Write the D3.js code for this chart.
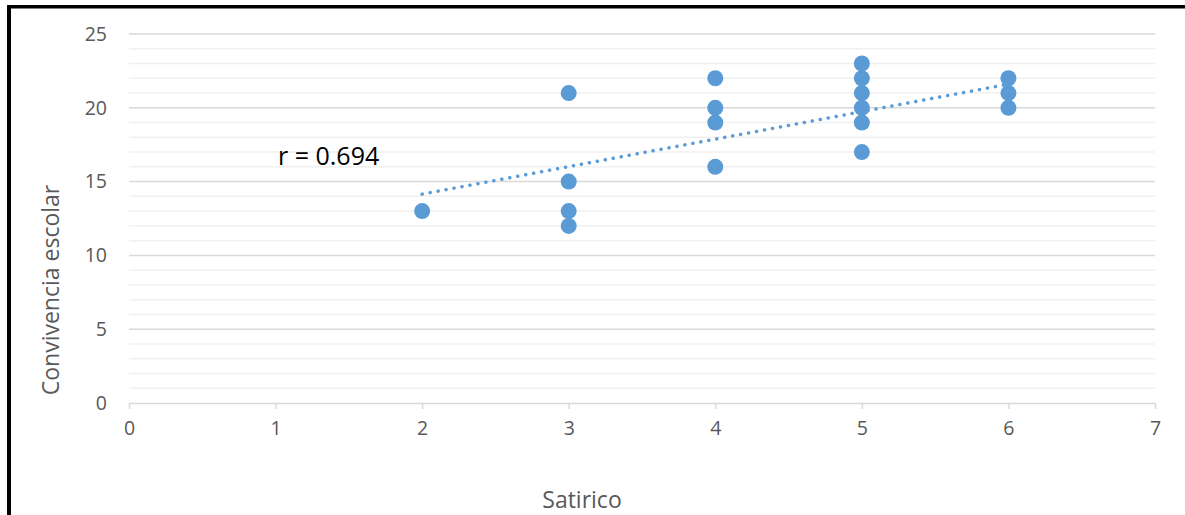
<!DOCTYPE html>
<html><head><meta charset="utf-8">
<script src="https://cdn.jsdelivr.net/npm/d3@7"></script>
<style>body{margin:0;background:#fff}svg{display:block}text{font-family:"Open Sans","Noto Sans",sans-serif}</style>
</head><body>
<svg id="c" width="1185" height="515"></svg>
<script>
const satirico = [2,3,3,3,3,4,4,4,4,5,5,5,5,5,5,6,6,6];
const convivencia = [13,21,15,13,12,22,20,19,16,23,22,21,20,19,17,22,21,20];
const trendX = [2,6];
const trendY = [14.15,21.6];
const xTicks = [0,1,2,3,4,5,6,7];
const yTicks = [0,5,10,15,20,25];
const yMinor = d3.range(0,26,1);
const rLabel = "r = 0.694";
const xTitle = "Satirico";
const yTitle = "Convivencia escolar";

const svg = d3.select("#c");
const x = d3.scaleLinear().domain([0,7]).range([129,1155]);
const y = d3.scaleLinear().domain([0,25]).range([403,34]);

// border
svg.append("rect").attr("x",7).attr("y",5).attr("width",4).attr("height",510).attr("fill","#000");
svg.append("rect").attr("x",7).attr("y",5).attr("width",1178).attr("height",3.5).attr("fill","#000");

// minor gridlines
svg.append("g").selectAll("line").data(yMinor.filter(d=>d%5!==0)).join("line")
  .attr("x1",x(0)).attr("x2",x(7)).attr("y1",d=>y(d)).attr("y2",d=>y(d))
  .attr("stroke","#f0f0f0").attr("stroke-width",1.5);
// major gridlines
svg.append("g").selectAll("line").data(yTicks.filter(d=>d>0)).join("line")
  .attr("x1",x(0)).attr("x2",x(7)).attr("y1",d=>y(d)).attr("y2",d=>y(d))
  .attr("stroke","#d9d9d9").attr("stroke-width",1.5);

// x axis
const xa = svg.append("g").attr("transform",`translate(0,${y(0)})`)
  .call(d3.axisBottom(x).tickValues(xTicks).tickFormat(d3.format("d")).tickSize(6).tickPadding(12).tickSizeOuter(0));
xa.select(".domain").attr("stroke","#d9d9d9").attr("stroke-width",1.5);
xa.selectAll(".tick line").attr("stroke","#d9d9d9").attr("stroke-width",1.5);
xa.selectAll(".tick text").attr("fill","#595959").attr("font-size",19.5);

// y axis labels
const ya = svg.append("g").attr("transform",`translate(${x(0)},0)`)
  .call(d3.axisLeft(y).tickValues(yTicks).tickFormat(d3.format("d")).tickSize(0).tickPadding(22));
ya.select(".domain").remove();
ya.selectAll(".tick text").attr("fill","#595959").attr("font-size",19.5);

// trendline
svg.append("path").datum(trendX.map((d,i)=>[d,trendY[i]]))
  .attr("d",d3.line().x(d=>x(d[0])).y(d=>y(d[1])))
  .attr("fill","none").attr("stroke","#5b9bd5").attr("stroke-width",3.5)
  .attr("stroke-linecap","round").attr("stroke-dasharray","0.1 8");

// points
svg.append("g").selectAll("circle").data(satirico.map((d,i)=>[d,convivencia[i]])).join("circle")
  .attr("cx",d=>x(d[0])).attr("cy",d=>y(d[1])).attr("r",8).attr("fill","#5b9bd5");

// labels
svg.append("text").attr("x",278).attr("y",165).attr("font-size",25).attr("fill","#000").text(rLabel);
svg.append("text").attr("x",582).attr("y",508).attr("text-anchor","middle").attr("font-size",23).attr("fill","#595959").text(xTitle);
svg.append("text").attr("transform","translate(59,290) rotate(-90)").attr("text-anchor","middle").attr("font-size",23).attr("fill","#595959").text(yTitle);
</script>
</body></html>
